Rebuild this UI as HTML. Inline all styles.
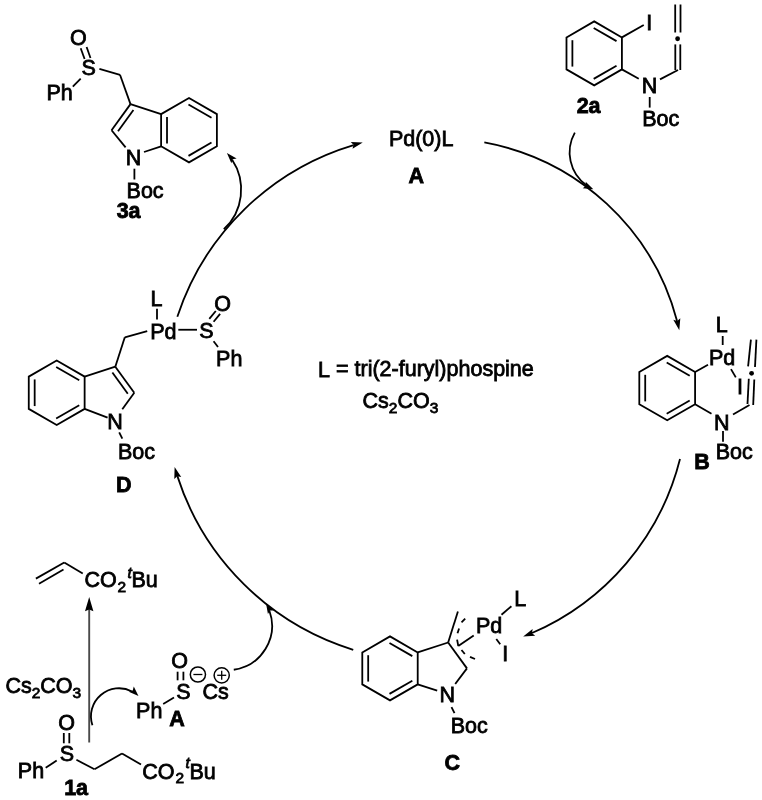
<!DOCTYPE html>
<html><head><meta charset="utf-8"><style>
html,body{margin:0;padding:0;background:#fff;}
svg{display:block;will-change:transform;}
text{font-family:"Liberation Sans",sans-serif;fill:#000;}
</style></head><body>
<svg width="762" height="800" viewBox="0 0 762 800" stroke="#000" fill="#000" stroke-linecap="butt">
<rect width="762" height="800" fill="#fff" stroke="none"/>
<g stroke="#000">
<g transform="translate(-0.55,0.2)"><text stroke-width="0.8" x="79" y="44.7" font-size="21.5" text-anchor="middle">O</text></g>
<g transform="translate(-0.4,-0.1)"><text stroke-width="0.8" x="89.1" y="75.6" font-size="21.5" text-anchor="middle">S</text></g>
<g transform="translate(-0.7,1)"><text stroke-width="0.8" x="60.3" y="99.2" font-size="21.5" text-anchor="middle">Ph</text></g>
<g transform="translate(0,-0.15)"><text stroke-width="0.8" x="133.5" y="165.5" font-size="21.5" text-anchor="middle">N</text></g>
<g transform="translate(-0.7,-0.1)"><text stroke-width="0.8" x="145.8" y="198" font-size="21.5" text-anchor="middle">Boc</text></g>
<g transform="translate(-0.7,-0.15)"><text stroke-width="0.8" x="129.3" y="218" font-size="21.5" text-anchor="middle" font-weight="bold">3a</text></g>
<line x1="80.7" y1="48.2" x2="84.6" y2="59" stroke-width="1.8"/>
<line x1="86.6" y1="47" x2="90.5" y2="58" stroke-width="1.8"/>
<line x1="72.8" y1="86.6" x2="80.7" y2="78.7" stroke-width="1.8"/>
<line x1="99.4" y1="68.9" x2="120" y2="74.8" stroke-width="1.8"/>
<polygon points="189,98 216.89,114.1 216.89,146.3 189,162.4 161.11,146.3 161.11,114.1" fill="none" stroke-width="1.8" stroke-linejoin="miter"/>
<line x1="188.48" y1="104.51" x2="211.51" y2="117.81" stroke-width="1.8"/>
<line x1="211.51" y1="142.59" x2="188.48" y2="155.89" stroke-width="1.8"/>
<line x1="167.01" y1="143.49" x2="167.01" y2="116.91" stroke-width="1.8"/>
<line x1="120" y1="74.8" x2="130.49" y2="104.15" stroke-width="1.8"/>
<line x1="161.11" y1="114.1" x2="130.49" y2="104.15" stroke-width="1.8"/>
<line x1="130.49" y1="104.15" x2="111.56" y2="130.2" stroke-width="1.8"/>
<line x1="133.42" y1="109.99" x2="118.02" y2="131.18" stroke-width="1.8"/>
<line x1="111.56" y1="130.2" x2="125.6" y2="147.4" stroke-width="1.8"/>
<line x1="144" y1="152" x2="161.11" y2="146.3" stroke-width="1.8"/>
<line x1="134.4" y1="168.7" x2="134.4" y2="179.5" stroke-width="1.8"/>
<g transform="translate(-0.65,0.35)"><text stroke-width="0.8" x="421.85" y="145.2" font-size="21.5" text-anchor="middle">Pd(0)L</text></g>
<g transform="translate(-0.15,-0.55)"><text stroke-width="0.8" x="416.4" y="183.5" font-size="21.5" text-anchor="middle" font-weight="bold">A</text></g>
<polygon points="594.2,21.4 621.91,37.4 621.91,69.4 594.2,85.4 566.49,69.4 566.49,37.4" fill="none" stroke-width="1.8" stroke-linejoin="miter"/>
<line x1="593.68" y1="27.91" x2="616.53" y2="41.11" stroke-width="1.8"/>
<line x1="616.53" y1="65.69" x2="593.68" y2="78.89" stroke-width="1.8"/>
<line x1="572.39" y1="66.59" x2="572.39" y2="40.21" stroke-width="1.8"/>
<line x1="621.91" y1="37.4" x2="643.75" y2="25" stroke-width="1.8"/>
<g transform="translate(-0.1,-0.3)"><text stroke-width="0.8" x="649.4" y="30" font-size="21.5" text-anchor="middle">I</text></g>
<line x1="621.91" y1="69.4" x2="638.75" y2="78.75" stroke-width="1.8"/>
<g transform="translate(0,-0.25)"><text stroke-width="0.8" x="649.5" y="93.6" font-size="21.5" text-anchor="middle">N</text></g>
<line x1="660" y1="79.4" x2="678" y2="70" stroke-width="1.8"/>
<line x1="675.3" y1="70" x2="675.3" y2="44.4" stroke-width="1.8"/>
<line x1="680.3" y1="70" x2="680.3" y2="44.4" stroke-width="1.8"/>
<circle cx="677.6" cy="38.75" r="2.4" stroke="none"/>
<line x1="675.2" y1="32.5" x2="675.2" y2="4.5" stroke-width="1.8"/>
<line x1="680.5" y1="32.5" x2="680.5" y2="4.5" stroke-width="1.8"/>
<line x1="649.7" y1="97" x2="649.7" y2="107.6" stroke-width="1.8"/>
<g transform="translate(-0.6,0.25)"><text stroke-width="0.8" x="661.4" y="125.8" font-size="21.5" text-anchor="middle">Boc</text></g>
<g transform="translate(-0.7,-1.1)"><text stroke-width="0.8" x="589.3" y="114.5" font-size="21.5" text-anchor="middle" font-weight="bold">2a</text></g>
<polygon points="667.2,355.9 695.09,372 695.09,404.2 667.2,420.3 639.31,404.2 639.31,372" fill="none" stroke-width="1.8" stroke-linejoin="miter"/>
<line x1="666.68" y1="362.41" x2="689.71" y2="375.71" stroke-width="1.8"/>
<line x1="689.71" y1="400.49" x2="666.68" y2="413.79" stroke-width="1.8"/>
<line x1="645.21" y1="401.39" x2="645.21" y2="374.81" stroke-width="1.8"/>
<line x1="695.09" y1="372" x2="708" y2="364.8" stroke-width="1.8"/>
<line x1="695.09" y1="404.2" x2="711.5" y2="413.8" stroke-width="1.8"/>
<g transform="translate(-0.65,-0.7)"><text stroke-width="0.8" x="722.3" y="332.6" font-size="21.5" text-anchor="middle">L</text></g>
<line x1="722.7" y1="336" x2="722.7" y2="345" stroke-width="1.8"/>
<g transform="translate(-0.45,0.75)"><text stroke-width="0.8" x="722.5" y="364.1" font-size="21.5" text-anchor="middle">Pd</text></g>
<line x1="731" y1="369.1" x2="735.8" y2="377.4" stroke-width="1.8"/>
<g transform="translate(0,-0.15)"><text stroke-width="0.8" x="739.9" y="393.7" font-size="21.5" text-anchor="middle">I</text></g>
<g transform="translate(0.7,1.15)"><text stroke-width="0.8" x="721.2" y="428.4" font-size="21.5" text-anchor="middle">N</text></g>
<line x1="733" y1="414.5" x2="749.5" y2="405" stroke-width="1.8"/>
<line x1="747.5" y1="404" x2="748.8" y2="378.8" stroke-width="1.8"/>
<line x1="753.2" y1="405" x2="754.3" y2="379.5" stroke-width="1.8"/>
<circle cx="751.6" cy="373.3" r="2.4" stroke="none"/>
<line x1="748.1" y1="366.4" x2="750.9" y2="339.6" stroke-width="1.8"/>
<line x1="755" y1="367" x2="756.4" y2="339.6" stroke-width="1.8"/>
<line x1="723" y1="431" x2="723" y2="441.8" stroke-width="1.8"/>
<g transform="translate(-1,-0.1)"><text stroke-width="0.8" x="735.2" y="458.8" font-size="21.5" text-anchor="middle">Boc</text></g>
<g transform="translate(-0.45,-0.5)"><text stroke-width="0.8" x="702.5" y="469" font-size="21.5" text-anchor="middle" font-weight="bold">B</text></g>
<g transform="translate(-0.75,0.45)"><text stroke-width="0.8" x="324.75" y="376.2" font-size="21.5" text-anchor="middle">L</text></g>
<g transform="translate(0.2,-0.5)"><text stroke-width="0.8" x="434.7" y="376.2" font-size="21.5" text-anchor="middle">= tri(2-furyl)phospine</text></g>
<g transform="translate(1.5,0.05)"><text stroke-width="0.8" x="361" y="407.8" font-size="21.5">Cs<tspan font-size="15.48" dy="4.7">2</tspan><tspan font-size="21.5" dy="-4.7">CO</tspan><tspan font-size="15.48" dy="4.7">3</tspan></text></g>
<g transform="translate(-0.25,0.25)"><text stroke-width="0.8" x="156.7" y="306" font-size="21.5" text-anchor="middle">L</text></g>
<line x1="157" y1="308.8" x2="157" y2="319.6" stroke-width="1.8"/>
<g transform="translate(0.15,0.45)"><text stroke-width="0.8" x="163.2" y="338.4" font-size="21.5" text-anchor="middle">Pd</text></g>
<g transform="translate(-0.05,-0.05)"><text stroke-width="0.8" x="206.5" y="338.4" font-size="21.5" text-anchor="middle">S</text></g>
<g transform="translate(0.1,0.25)"><text stroke-width="0.8" x="222.6" y="311" font-size="21.5" text-anchor="middle">O</text></g>
<g transform="translate(0.1,0.25)"><text stroke-width="0.8" x="229.1" y="365.8" font-size="21.5" text-anchor="middle">Ph</text></g>
<line x1="124.8" y1="337.3" x2="147.2" y2="331.2" stroke-width="1.8"/>
<line x1="178.3" y1="329.75" x2="197" y2="329.75" stroke-width="1.8"/>
<line x1="209.3" y1="318.9" x2="215.8" y2="311" stroke-width="1.8"/>
<line x1="213.6" y1="321.8" x2="220.1" y2="313.9" stroke-width="1.8"/>
<line x1="213.6" y1="341.3" x2="218" y2="347" stroke-width="1.8"/>
<polygon points="56.7,360.5 84.63,376.62 84.63,408.88 56.7,425 28.77,408.88 28.77,376.62" fill="none" stroke-width="1.8" stroke-linejoin="miter"/>
<line x1="56.18" y1="367.01" x2="79.25" y2="380.33" stroke-width="1.8"/>
<line x1="79.25" y1="405.17" x2="56.18" y2="418.49" stroke-width="1.8"/>
<line x1="34.67" y1="406.07" x2="34.67" y2="379.43" stroke-width="1.8"/>
<line x1="84.63" y1="376.62" x2="115.3" y2="366.66" stroke-width="1.8"/>
<line x1="115.3" y1="366.66" x2="134.26" y2="392.75" stroke-width="1.8"/>
<line x1="112.37" y1="372.5" x2="127.8" y2="393.73" stroke-width="1.8"/>
<line x1="115.3" y1="366.66" x2="124.8" y2="337.3" stroke-width="1.8"/>
<line x1="134.26" y1="392.75" x2="122.3" y2="409.3" stroke-width="1.8"/>
<line x1="84.63" y1="408.88" x2="107.6" y2="417.7" stroke-width="1.8"/>
<g transform="translate(0,0.85)"><text stroke-width="0.8" x="115" y="428" font-size="21.5" text-anchor="middle">N</text></g>
<line x1="119.2" y1="432.4" x2="122.3" y2="438.7" stroke-width="1.8"/>
<g transform="translate(-0.45,0.3)"><text stroke-width="0.8" x="137" y="458.6" font-size="21.5" text-anchor="middle">Boc</text></g>
<g transform="translate(-0.15,0.85)"><text stroke-width="0.8" x="123.9" y="491.2" font-size="21.5" text-anchor="middle" font-weight="bold">D</text></g>
<polygon points="390,636.4 417.71,652.4 417.71,684.4 390,700.4 362.29,684.4 362.29,652.4" fill="none" stroke-width="1.8" stroke-linejoin="miter"/>
<line x1="389.48" y1="642.91" x2="412.33" y2="656.11" stroke-width="1.8"/>
<line x1="412.33" y1="680.69" x2="389.48" y2="693.89" stroke-width="1.8"/>
<line x1="368.19" y1="681.59" x2="368.19" y2="655.21" stroke-width="1.8"/>
<line x1="417.71" y1="652.4" x2="448.15" y2="642.51" stroke-width="1.8"/>
<line x1="448.15" y1="642.51" x2="466.96" y2="668.4" stroke-width="1.8"/>
<line x1="448.15" y1="642.51" x2="457.9" y2="611.4" stroke-width="1.8"/>
<line x1="466.96" y1="668.4" x2="455.2" y2="684" stroke-width="1.8"/>
<line x1="417.71" y1="684.4" x2="437.2" y2="690.7" stroke-width="1.8"/>
<g transform="translate(-0.15,-0.65)"><text stroke-width="0.8" x="447.4" y="702.5" font-size="21.5" text-anchor="middle">N</text></g>
<line x1="451.5" y1="707.2" x2="454.5" y2="713.2" stroke-width="1.8"/>
<g transform="translate(-0.65,0.1)"><text stroke-width="0.8" x="469.9" y="733.3" font-size="21.5" text-anchor="middle">Boc</text></g>
<g transform="translate(0.2,-0.15)"><text stroke-width="0.8" x="452.2" y="770" font-size="21.5" text-anchor="middle" font-weight="bold">C</text></g>
<line x1="473.7" y1="635.4" x2="458.3" y2="646" stroke-width="1.8"/>
<line x1="458.3" y1="646" x2="457.1" y2="639.6" stroke-width="1.8"/>
<line x1="457.5" y1="633.3" x2="459.1" y2="628.5" stroke-width="1.8"/>
<line x1="461.5" y1="622.4" x2="465.2" y2="618.7" stroke-width="1.8"/>
<line x1="461.5" y1="650" x2="464.8" y2="654" stroke-width="1.8"/>
<line x1="470" y1="656.9" x2="475" y2="659" stroke-width="1.8"/>
<g transform="translate(0.05,-0.1)"><text stroke-width="0.8" x="489" y="633.6" font-size="21.5" text-anchor="middle">Pd</text></g>
<g transform="translate(-0.6,-0.5)"><text stroke-width="0.8" x="520.9" y="606.8" font-size="21.5" text-anchor="middle">L</text></g>
<line x1="501.5" y1="614.8" x2="511.4" y2="606.2" stroke-width="1.8"/>
<line x1="496.3" y1="639" x2="500.2" y2="644.3" stroke-width="1.8"/>
<g transform="translate(0.5,0)"><text stroke-width="0.8" x="504.8" y="660.5" font-size="21.5" text-anchor="middle">I</text></g>
<line x1="35.9" y1="578.6" x2="64.25" y2="562.5" stroke-width="1.8"/>
<line x1="39" y1="583.7" x2="63.5" y2="569.5" stroke-width="1.8"/>
<line x1="64.25" y1="562.5" x2="82.75" y2="573.5" stroke-width="1.8"/>
<g transform="translate(0.5,-0.25)"><text stroke-width="0.8" x="84" y="587" font-size="21.5">CO</text><text stroke-width="0.8" x="117" y="592" font-size="15.48">2</text><text stroke-width="0.8" x="127" y="577.8" font-size="15.48" font-style="italic">t</text><text stroke-width="0.8" x="131" y="587" font-size="21.5">Bu</text></g>
<g transform="translate(1.8,-0.5)"><text stroke-width="0.8" x="3.6" y="693.3" font-size="21.5">Cs<tspan font-size="15.48" dy="4.7">2</tspan><tspan font-size="21.5" dy="-4.7">CO</tspan><tspan font-size="15.48" dy="4.7">3</tspan></text></g>
<g transform="translate(0.05,-0.3)"><text stroke-width="0.8" x="66.5" y="730.5" font-size="21.5" text-anchor="middle">O</text></g>
<line x1="63.8" y1="733" x2="63.8" y2="743.3" stroke-width="1.8"/>
<line x1="69.3" y1="733" x2="69.3" y2="743.3" stroke-width="1.8"/>
<g transform="translate(-0.05,0.05)"><text stroke-width="0.8" x="67" y="761.2" font-size="21.5" text-anchor="middle">S</text></g>
<g transform="translate(-0.5,-0.15)"><text stroke-width="0.8" x="31.5" y="778.5" font-size="21.5" text-anchor="middle">Ph</text></g>
<line x1="45.7" y1="767.7" x2="56.7" y2="760.6" stroke-width="1.8"/>
<line x1="76.4" y1="759.8" x2="94.5" y2="769.3" stroke-width="1.8"/>
<line x1="94.5" y1="769.3" x2="122" y2="753.5" stroke-width="1.8"/>
<line x1="122" y1="753.5" x2="141" y2="764.5" stroke-width="1.8"/>
<g transform="translate(0.85,0.15)"><text stroke-width="0.8" x="141.4" y="779" font-size="21.5">CO</text><text stroke-width="0.8" x="174.6" y="783" font-size="15.48">2</text><text stroke-width="0.8" x="184.6" y="768" font-size="15.48" font-style="italic">t</text><text stroke-width="0.8" x="188.6" y="779" font-size="21.5">Bu</text></g>
<g transform="translate(-0.7,0.9)"><text stroke-width="0.8" x="76.8" y="794.3" font-size="21.5" text-anchor="middle" font-weight="bold">1a</text></g>
<g transform="translate(-0.35,-0.05)"><text stroke-width="0.8" x="180.1" y="667.8" font-size="21.5" text-anchor="middle">O</text></g>
<line x1="177.6" y1="671.7" x2="177.6" y2="680.3" stroke-width="1.8"/>
<line x1="183.4" y1="671.7" x2="183.4" y2="680.3" stroke-width="1.8"/>
<text stroke-width="0.8" x="183.5" y="698.8" font-size="21.5" text-anchor="middle">S</text>
<g transform="translate(0.05,0)"><text stroke-width="0.8" x="215.5" y="698.8" font-size="21.5" text-anchor="middle">Cs</text></g>
<g transform="translate(0.15,0.55)"><text stroke-width="0.8" x="149.1" y="717" font-size="21.5" text-anchor="middle">Ph</text></g>
<g transform="translate(-0.05,0.4)"><text stroke-width="0.8" x="177" y="725.6" font-size="21.5" text-anchor="middle" font-weight="bold">A</text></g>
<line x1="163.2" y1="704" x2="174" y2="697.6" stroke-width="1.8"/>
<circle cx="197.9" cy="674.5" r="7.6" fill="none" stroke-width="1.5"/>
<line x1="193.4" y1="674.5" x2="202.4" y2="674.5" stroke-width="1.3"/>
<circle cx="221.7" cy="675.3" r="7.6" fill="none" stroke-width="1.5"/>
<line x1="217.2" y1="675.3" x2="226.2" y2="675.3" stroke-width="1.3"/>
<line x1="221.7" y1="670.8" x2="221.7" y2="679.8" stroke-width="1.3"/>
<line x1="89.2" y1="742.5" x2="89.2" y2="606" stroke="#4a4a4a" stroke-width="1.9"/>
<polygon points="89.2,597 93.4,611.2 89.2,609.4 85,611.2" stroke="none"/>
<path d="M177.32,316.78 A266.15,266.15 0 0 1 353.6,145.02" fill="none" stroke-width="1.8"/>
<polygon points="362.74,142.45 352.53,148.85 353.55,144.86 350.71,141.88" stroke="none"/>
<path d="M484.33,142.48 A244.82,244.82 0 0 1 677.06,320.95" fill="none" stroke-width="1.8"/>
<polygon points="679.3,330.18 673.29,319.73 677.24,320.9 680.32,318.17" stroke="none"/>
<path d="M680.01,459.07 A258.11,258.11 0 0 1 531.97,633.02" fill="none" stroke-width="1.8"/>
<polygon points="523.18,636.62 532.59,629.11 532.03,633.18 535.2,635.82" stroke="none"/>
<path d="M353.24,649.78 A267.83,267.83 0 0 1 177.38,476.1" fill="none" stroke-width="1.8"/>
<polygon points="174.62,467.01 181.23,477.09 177.22,476.15 174.3,479.05" stroke="none"/>
<path d="M223.83,229.24 A53.99,53.99 0 0 0 232.15,159.76" fill="none" stroke-width="1.8"/>
<polygon points="226.91,153.08 236.67,158.38 232.66,159.34 231.37,163.25" stroke="none"/>
<path d="M574.83,132.59 A40.38,40.38 0 0 0 586.42,185.15" fill="none" stroke-width="1.8"/>
<polygon points="593.33,189.16 582.73,188.3 586.04,185.85 585.71,181.74" stroke="none"/>
<path d="M233.77,669.75 A44.39,44.39 0 0 0 269.41,610.81" fill="none" stroke-width="1.8"/>
<polygon points="266.04,603.56 274.17,610.41 270.05,610.48 267.94,614.02" stroke="none"/>
<path d="M92.4,725.2 A28.07,28.07 0 0 1 132.02,691.45" fill="none" stroke-width="1.8"/>
<polygon points="138.49,696.11 128.79,691.77 132.73,690.56 133.78,686.58" stroke="none"/>
</g>
</svg>
</body></html>
